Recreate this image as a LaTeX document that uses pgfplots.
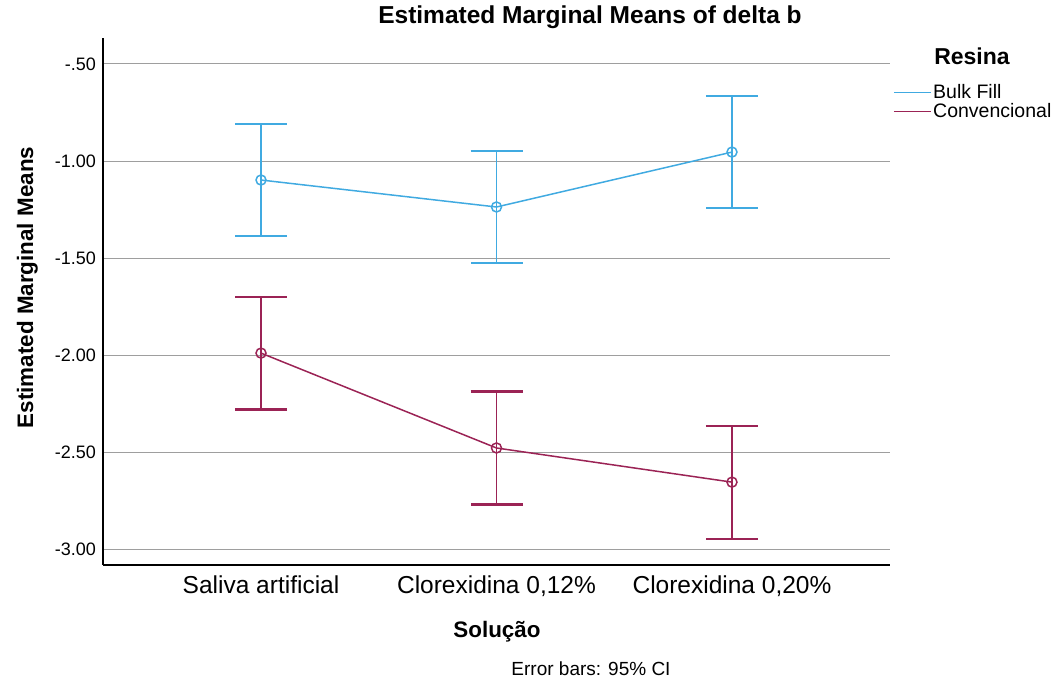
\documentclass[border=0pt]{standalone}
\usepackage{pgfplots}
\pgfplotsset{compat=1.18}
\usepackage{pgfplotstable}
\usepackage{fontspec}
\setmainfont{Liberation Sans}
\definecolor{bulk}{RGB}{64,170,225}
\definecolor{conv}{RGB}{155,35,85}
\pgfplotstableread{
x y e
0 -1.098 0.290
1 -1.237 0.289
2 -0.954 0.289
}\bulk
\pgfplotstableread{
x y e
0 -1.990 0.291
1 -2.479 0.291
2 -2.655 0.291
}\conv
\begin{document}
\begin{tikzpicture}[x=1pt,y=1pt]
\path[use as bounding box] (0,0) rectangle (1055,684);
\begin{axis}[
  at={(103pt,119pt)}, anchor=south west,
  scale only axis, width=787pt, height=527pt,
  xmin=-0.671, xmax=2.671, ymin=-3.082, ymax=-0.366,
  axis x line*=bottom, axis y line*=left,
  axis line style={-, black, line width=1.2pt},
  major tick length=0pt,
  xtick={0,1,2},
  xticklabels={{Saliva artificial}, {Clorexidina 0,12\%}, {Clorexidina 0,20\%}},
  xticklabel style={font=\fontsize{24.5}{28}\selectfont, anchor=base, yshift=-29pt, inner sep=0pt},
  ytick={-3,-2.5,-2,-1.5,-1,-0.5},
  yticklabels={-3.00,-2.50,-2.00,-1.50,-1.00,-.50},
  yticklabel style={font=\fontsize{18}{21}\selectfont, anchor=east, xshift=-7pt, inner sep=0pt},
  ymajorgrids, grid style={color=black!38, line width=1pt},
  legend style={draw=none, fill=none, at={(1.0038,0.8786)}, anchor=west,
    inner xsep=0pt, inner ysep=0pt, row sep=0pt,
    nodes={inner sep=1.5pt, font=\fontsize{19.5}{22}\selectfont}},
  legend cell align=left,
  legend image code/.code={\draw[#1, mark=none] (0pt,0pt) -- (37pt,0pt);},
]
\addplot[color=bulk, line width=1.5pt, mark=o, mark size=5pt,
  error bars/.cd, y dir=both, y explicit,
  error bar style={line width=1.8pt, color=bulk},
  error mark options={rotate=90, mark size=26pt, line width=2.2pt, color=bulk}]
  table[x=x, y=y, y error=e] {\bulk};
\addlegendentry{Bulk Fill}
\addplot[color=conv, line width=1.5pt, mark=o, mark size=5pt,
  error bars/.cd, y dir=both, y explicit,
  error bar style={line width=1.8pt, color=conv},
  error mark options={rotate=90, mark size=26pt, line width=2.2pt, color=conv}]
  table[x=x, y=y, y error=e] {\conv};
\addlegendentry{Convencional}
\end{axis}
\node[font=\bfseries\fontsize{24.5}{28}\selectfont, anchor=base] at (590,660) {Estimated Marginal Means of delta b};
\node[font=\bfseries\fontsize{23}{26}\selectfont, anchor=base] at (972,619) {Resina};
\node[font=\bfseries\fontsize{22.4}{26}\selectfont, rotate=90, anchor=base] at (33,396.5) {Estimated Marginal Means};
\node[font=\bfseries\fontsize{22.4}{26}\selectfont, anchor=base] at (497,46) {Solução};
\node[font=\fontsize{19}{22}\selectfont, anchor=base] at (591,8) {Error bars: 95\% CI};
\end{tikzpicture}
\end{document}
